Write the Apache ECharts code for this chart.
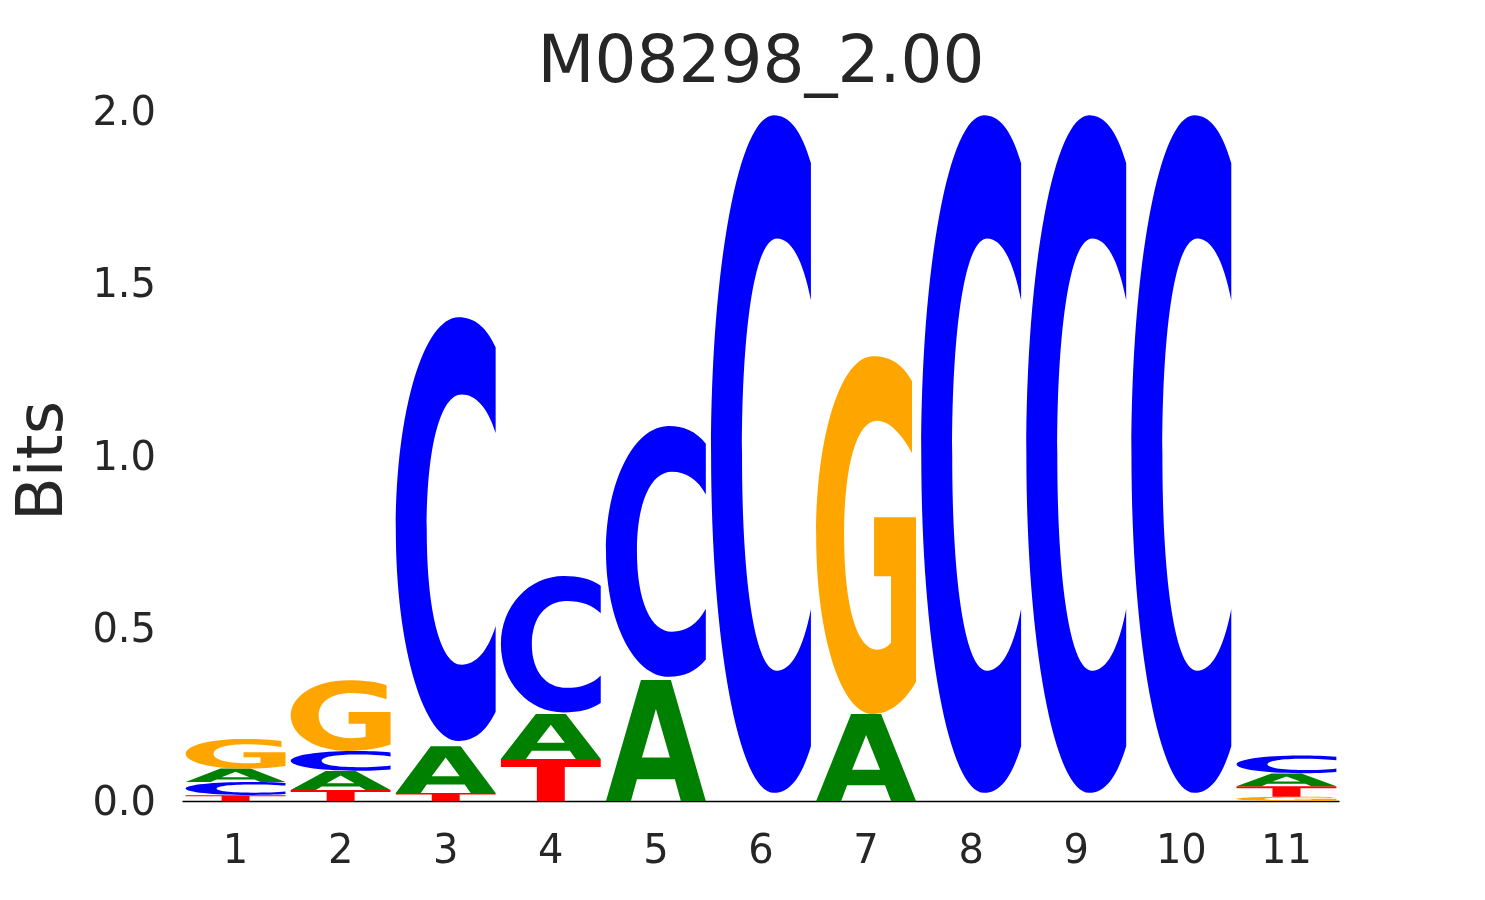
<!DOCTYPE html>
<html>
<head>
<meta charset="utf-8">
<script src="https://cdn.jsdelivr.net/npm/echarts@6/dist/echarts.min.js"></script>
<style>
html,body{margin:0;padding:0;background:#fff;}
#chart{width:1485px;height:900px;}
</style>
</head>
<body>
<div id="chart"></div>
<script>
// ---- data ----
const positions = ['1','2','3','4','5','6','7','8','9','10','11'];
const bitsA = [0.039, 0.055, 0.136, 0.130, 0.351, 0, 0.252, 0, 0, 0, 0.037];
const bitsC = [0.038, 0.058, 1.243, 0.400, 0.736, 1.988, 0, 1.988, 1.988, 1.988, 0.052];
const bitsG = [0.086, 0.205, 0, 0, 0, 0, 1.037, 0, 0, 0, 0.012];
const bitsT = [0.017, 0.032, 0.023, 0.122, 0, 0, 0, 0, 0, 0, 0.031];
const yTicks = [0, 0.5, 1.0, 1.5, 2.0];
const titleText = 'M08298_2.00';

// ---- glyph outlines (unit box, stretched to each slot) ----
const GLYPH = {
  A: 'M0 100 L35 0 L65 0 L100 100 L75 100 L69 82 L31 82 L25 100 Z M36 64 L64 64 L50 24 Z',
  C: 'M100 7 C90 2 78 0 63 0 C28 0 0 22 0 49.4 C0 77 28 98.8 63 98.8 C78 98.8 90 96.8 100 92 L100 72 C92 78 80 81 66 81 C45 81 31 69 31 49.4 C31 30 45 18 66 18 C80 18 92 21 100 27 Z M60 100 L60.01 100 Z',
  G: 'M96 7 C86 2 74 0 57 0 C25 0 0 22 0 50 C0 78 25 100 57 100 C75 100 90 96 100 91 L100 45 L58 45 L58 61.5 L75 61.5 L75 80 C71 81.5 66 82 61 82 C41 82 28 70 28 50 C28 30 41 18 61 18 C74 18 86 22 96 27 Z',
  T: 'M0 0 L100 0 L100 19 L64 19 L64 100 L36 100 L36 19 L0 19 Z'
};
const COLORS = {A: '#008000', C: '#0000ff', G: '#ffa500', T: '#ff0000'};
const LETTERS = ['A','C','G','T'];
const BITS = {A: bitsA, C: bitsC, G: bitsG, T: bitsT};

// build stacked items: [position index, bottom, top, letter index]
const stackData = [];
positions.forEach(function (p, i) {
  const items = LETTERS.map(function (L) { return {L: L, h: BITS[L][i]}; })
    .filter(function (d) { return d.h > 0; })
    .sort(function (a, b) { return a.h - b.h; });
  let base = 0;
  items.forEach(function (d) {
    stackData.push([i, base, base + d.h, LETTERS.indexOf(d.L)]);
    base += d.h;
  });
});

const chart = echarts.init(document.getElementById('chart'));
chart.setOption({
  backgroundColor: '#ffffff',
  animation: false,
  title: {
    text: titleText,
    left: 756, top: 27, textAlign: 'center',
    textStyle: {fontFamily: 'DejaVu Sans', fontSize: 66, fontWeight: 'normal', color: '#262626'}
  },
  grid: {left: 183, right: 146, top: 111, bottom: 99, outerBoundsMode: 'none', containLabel: false},
  xAxis: {
    type: 'category',
    data: positions,
    axisLine: {show: true, lineStyle: {color: '#000000', width: 1.3}},
    axisTick: {show: false},
    splitLine: {show: false},
    axisLabel: {fontFamily: 'DejaVu Sans', fontSize: 40, color: '#262626', margin: 32}
  },
  yAxis: {
    type: 'value',
    min: 0, max: 2, interval: 0.5,
    name: 'Bits', nameLocation: 'middle', nameGap: 106,
    nameTextStyle: {fontFamily: 'DejaVu Sans', fontSize: 64, color: '#262626', padding: [0, 10, 0, 0]},
    axisLine: {show: false},
    axisTick: {show: false},
    splitLine: {show: false},
    axisLabel: {
      fontFamily: 'DejaVu Sans', fontSize: 40, color: '#262626', margin: 27,
      formatter: function (v) { return yTicks.indexOf(v) >= 0 ? '{t|' + v.toFixed(1) + '}' : ''; },
      rich: {t: {fontFamily: 'DejaVu Sans', fontSize: 40, color: '#262626', padding: [7, 0, 0, 0]}}
    }
  },
  series: [{
    type: 'custom',
    data: stackData,
    encode: {x: 0, y: [1, 2]},
    renderItem: function (params, api) {
      const xi = api.value(0);
      const p0 = api.coord([xi, api.value(1)]);
      const p1 = api.coord([xi, api.value(2)]);
      const bw = api.size([1, 0])[0] * 0.95;
      const L = LETTERS[api.value(3)];
      return {
        type: 'path',
        shape: {
          pathData: GLYPH[L],
          x: p0[0] - bw / 2, y: p1[1],
          width: bw, height: Math.max(0.5, p0[1] - p1[1]),
          layout: 'cover'
        },
        style: {fill: COLORS[L]}
      };
    }
  }]
});
</script>
</body>
</html>
